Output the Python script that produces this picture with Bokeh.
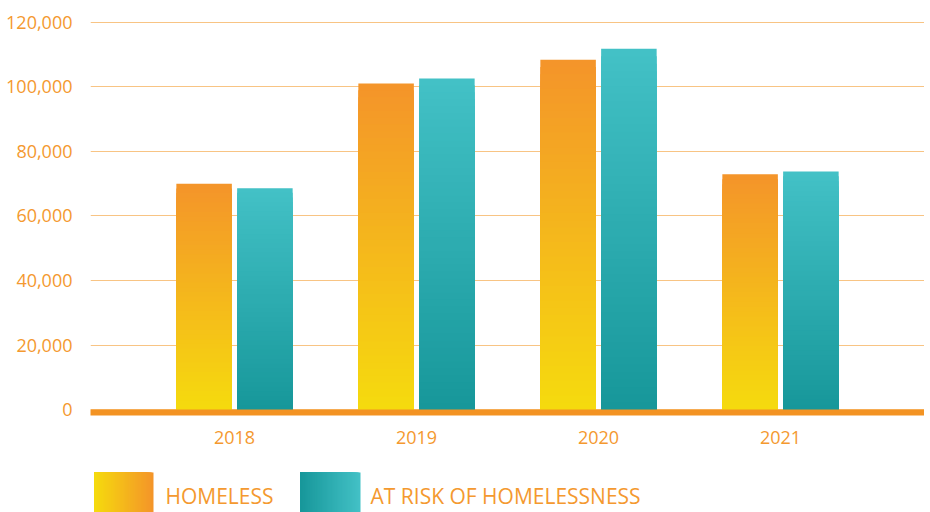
import numpy as np
from bokeh.plotting import figure
from bokeh.models import Range1d, FixedTicker, NumeralTickFormatter, ColumnDataSource
from bokeh.layouts import column
from bokeh.core.properties import value
from bokeh.embed import file_html
from bokeh.resources import INLINE

# ---- data ----
years = ["2018", "2019", "2020", "2021"]
homeless = [70000, 101000, 108400, 72900]
at_risk = [68600, 102600, 111800, 73800]
y_ticks = [0, 20000, 40000, 60000, 80000, 100000, 120000]
legend_labels = ["HOMELESS", "AT RISK OF HOMELESSNESS"]

# ---- style ----
TEXT = "#F4992F"
AXIS = "#F39323"
GRID = "#F8C484"
H_BOTTOM, H_TOP = "#F5DB0E", "#F4942A"
R_BOTTOM, R_TOP = "#17979A", "#43C1C6"
FONT = "Open Sans"
N = 48


def hex2rgb(c):
    c = c.lstrip("#")
    return np.array([int(c[i:i + 2], 16) for i in (0, 2, 4)], dtype=float)


def mix(c1, c2, t):
    a, b = hex2rgb(c1), hex2rgb(c2)
    r = a + (b - a) * t
    return "#%02x%02x%02x" % tuple(int(round(v)) for v in r)


def gradient_bars(xs, vals, c_bot, c_top):
    x, top, col = [], [], []
    for k in range(N, 0, -1):
        f = k / N
        c = mix(c_bot, c_top, (k - 0.5) / N)
        for xi, v in zip(xs, vals):
            x.append(xi)
            top.append(v * f)
            col.append(c)
    return ColumnDataSource(dict(x=x, top=top, color=col))


p = figure(width=924, height=460, output_backend="svg", toolbar_location=None,
           x_range=Range1d(-0.7912, 3.7912), y_range=Range1d(-840, 122068),
           min_border_left=90, min_border_right=0, min_border_top=15, min_border_bottom=48)
p.outline_line_color = None
p.background_fill_color = "white"
p.border_fill_color = "white"

idx = np.arange(len(years))
off = 0.167
bw = 0.305
p.vbar(x="x", width=bw, bottom=0, top="top", fill_color="color", line_color=None,
       source=gradient_bars(idx - off, homeless, H_BOTTOM, H_TOP))
p.vbar(x="x", width=bw, bottom=0, top="top", fill_color="color", line_color=None,
       source=gradient_bars(idx + off, at_risk, R_BOTTOM, R_TOP))

# axes
p.xaxis.ticker = FixedTicker(ticks=list(idx))
p.xaxis.major_label_overrides = {int(i): y for i, y in zip(idx, years)}
p.xaxis.axis_line_color = AXIS
p.xaxis.axis_line_width = 6
p.xaxis.major_tick_line_color = None
p.xaxis.minor_tick_line_color = None
p.xaxis.major_label_standoff = 12
p.xaxis.major_label_text_font = FONT
p.xaxis.major_label_text_font_size = "18px"
p.xaxis.major_label_text_color = TEXT

p.yaxis.ticker = FixedTicker(ticks=y_ticks)
p.yaxis.formatter = NumeralTickFormatter(format="0,0")
p.yaxis.axis_line_color = None
p.yaxis.major_tick_line_color = None
p.yaxis.minor_tick_line_color = None
p.yaxis.major_label_standoff = 12
p.yaxis.major_label_text_font = FONT
p.yaxis.major_label_text_font_size = "18px"
p.yaxis.major_label_text_color = TEXT

p.xgrid.grid_line_color = None
p.ygrid.grid_line_color = GRID
p.ygrid.grid_line_width = 1
p.ygrid.ticker = FixedTicker(ticks=y_ticks)

# ---- legend figure (its frame is aligned with the main frame: x 90..924) ----
lg = figure(width=924, height=52, output_backend="svg", toolbar_location=None,
            x_range=Range1d(90, 924), y_range=Range1d(512, 460),
            min_border_left=90, min_border_right=0,
            min_border_top=0, min_border_bottom=0)
lg.axis.visible = False
lg.grid.visible = False
lg.outline_line_color = None
lg.border_fill_color = "white"


def gradient_swatch(x0, x1, y0, y1, c_left, c_right):
    left, right, top, bottom, col = [], [], [], [], []
    for k in range(N, 0, -1):
        f = k / N
        left.append(x0)
        right.append(x0 + (x1 - x0) * f)
        top.append(y0)
        bottom.append(y1)
        col.append(mix(c_left, c_right, (k - 0.5) / N))
    return ColumnDataSource(dict(left=left, right=right, top=top, bottom=bottom, color=col))


lg.quad(left="left", right="right", top="top", bottom="bottom", fill_color="color",
        line_color=None, source=gradient_swatch(94, 153, 472, 512, H_BOTTOM, H_TOP))
lg.quad(left="left", right="right", top="top", bottom="bottom", fill_color="color",
        line_color=None, source=gradient_swatch(300, 360, 472, 512, R_BOTTOM, R_TOP))
lg.text(x=[165, 370], y=[495, 495], text=legend_labels, text_font=value(FONT),
        text_font_size="21px", text_color=TEXT, text_baseline="middle", text_align="left")

layout = column(p, lg, spacing=0)
open("out.html", "w").write(file_html(layout, INLINE))
